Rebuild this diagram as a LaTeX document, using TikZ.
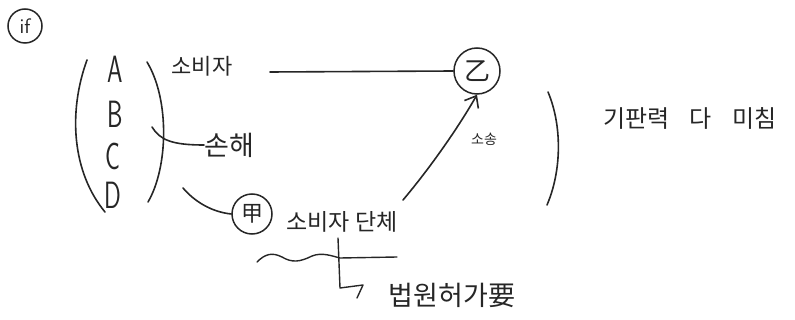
\documentclass[tikz,border=0pt]{standalone}
\usepackage{fontspec}
\setmainfont{Noto Sans CJK KR}
\newfontfamily\kr{Noto Sans CJK KR}
\usetikzlibrary{arrows.meta}
\begin{document}
\begin{tikzpicture}[x=1pt,y=-1pt,
  pen/.style={line width=1.6pt,line cap=round,line join=round,black!85},
  hw/.style={inner sep=0pt,font=\kr\fontsize{20}{22}\selectfont,text=black!85},
  letter/.style={inner sep=0pt,xscale=0.65,font=\sffamily\fontsize{38}{40}\selectfont,text=black!85},
  ring/.style={circle,draw,line width=1.5pt,black!85,inner sep=1pt}]
\useasboundingbox (0,0) rectangle (795,320);
% circled if
\node[ring,minimum size=34pt,font=\sffamily\fontsize{21}{21}\selectfont] (if) at (25,26) {if};
% letters
\node[letter] (A) at (115,69) {A};
\node[letter] (B) at (115,114) {B};
\node[letter] (C) at (113,156) {C};
\node[letter] (D) at (113,195) {D};
% parens
\draw[pen] (87,60) .. controls (68,112) and (72,172) .. (105,212);
\draw[pen] (147,62) .. controls (170,100) and (168,168) .. (148,202);
% labels
\node[hw,font=\kr\fontsize{22}{24}\selectfont] (cons) at (202,66) {소비자};
\node[hw,font=\kr\fontsize{27}{28}\selectfont] (dmg) at (229,145) {손해};
\node[ring,minimum size=40pt,font=\kr\fontsize{22}{22}\selectfont] (gap) at (252,214) {甲};
\node[hw,font=\kr\fontsize{23}{24}\selectfont] (grp) at (342,222) {소비자 단체};
\node[ring,minimum size=46pt,font=\kr\fontsize{26}{26}\selectfont] (eul) at (477,71) {乙};
\node[hw,font=\kr\fontsize{14}{16}\selectfont] (suit) at (484,139) {소송};
\node[hw,font=\kr\fontsize{24}{26}\selectfont] (res) at (690,118) {기판력\hspace{20pt}다\hspace{20pt}미침};
\node[hw,font=\kr\fontsize{27}{28}\selectfont] (court) at (452,295) {법원허가要};
% connectors
\coordinate (c1) at (270,72);
\draw[pen] (c1) -- (eul.west);
\coordinate (b1) at (152,127);
\draw[pen] (b1) .. controls (160,140) and (172,145) .. (dmg.west);
\coordinate (d1) at (183,188);
\draw[pen] (d1) .. controls (195,202) and (212,212) .. (gap.west);
\coordinate (g1) at (403,200);
\draw[pen,-{Straight Barb[length=10pt,width=16pt,line width=1.6pt]}] (g1) .. controls (430,168) and (458,128) .. (eul.south);
% right paren
\draw[pen] (548,92) .. controls (562,125) and (562,170) .. (547,205);
% wavy underline
\draw[pen,line width=1.4pt] (257,262) .. controls (265,254) and (272,252) .. (282,257) .. controls (292,263) and (300,262) .. (312,256) .. controls (322,252) and (332,256) .. (340,258) -- (397,257);
% hook to court
\coordinate (h0) at (338,238);
\coordinate (h1) at (340,288);
\coordinate (h2) at (363,285);
\coordinate (h3) at (357,298);
\draw[pen,line width=1.4pt] (h0) -- (h1) -- (h2) -- (h3);
\end{tikzpicture}
\end{document}
